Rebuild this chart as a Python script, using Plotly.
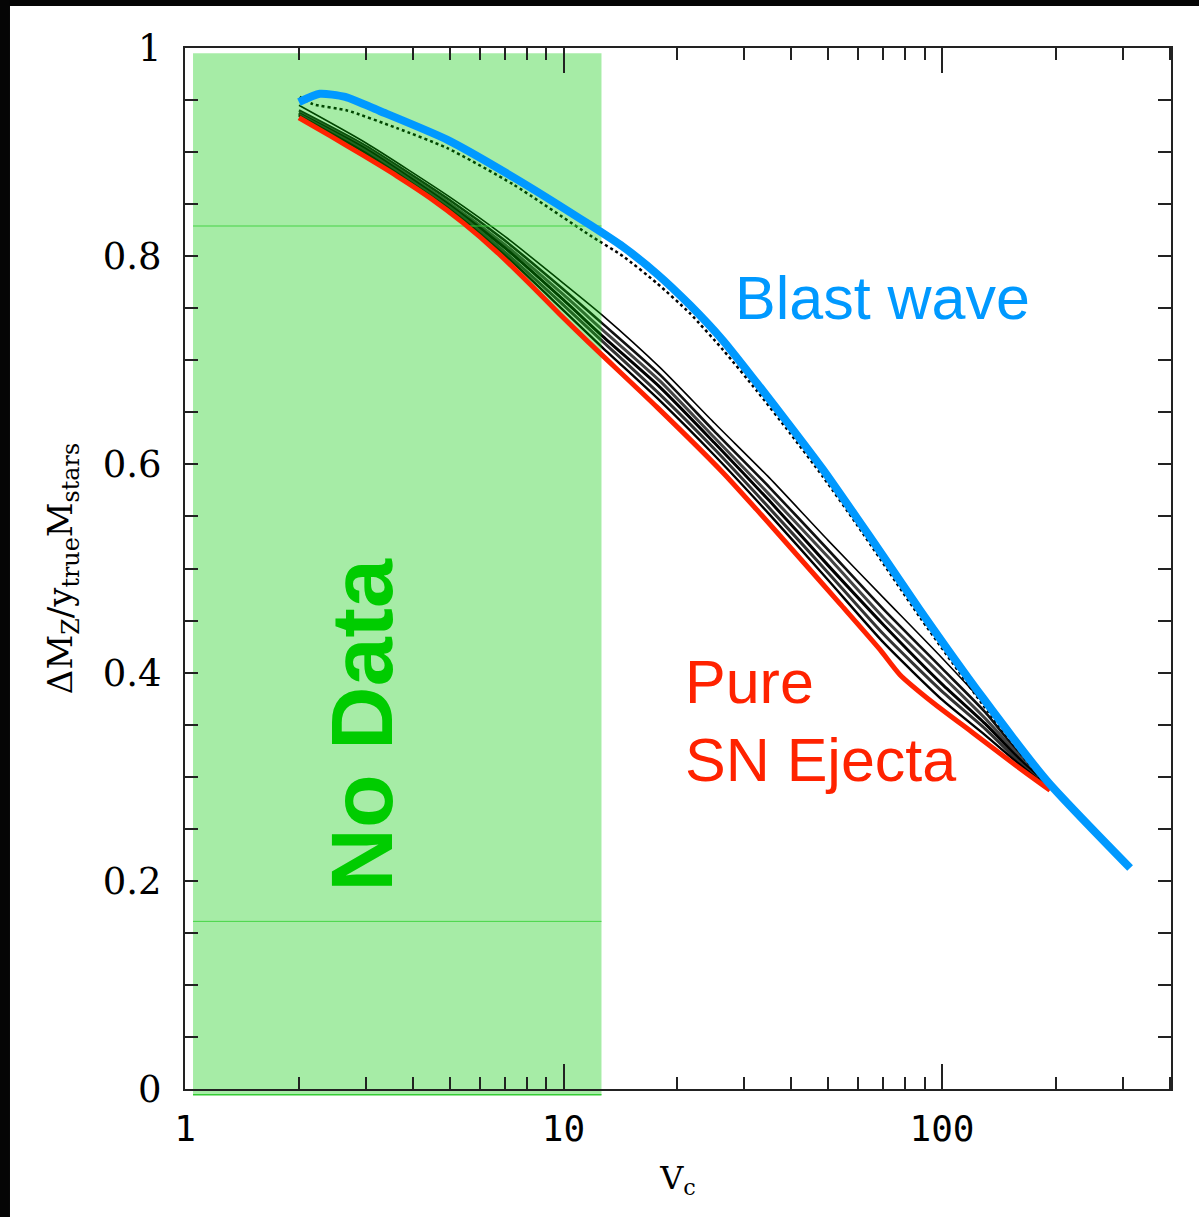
import plotly.graph_objects as go

# ---------------- data ----------------
blast_x = [2.0, 2.27, 2.65, 3.27, 4.92, 7.36, 11.75, 14.36, 17.66, 21.59, 26.39, 32.45, 39.67, 48.5, 59.6, 69.9, 87.5, 128.3, 189.4, 314]
blast_y = [0.948, 0.956, 0.953, 0.9395, 0.912, 0.876, 0.830, 0.809, 0.783, 0.753, 0.719, 0.678, 0.637, 0.595, 0.5485, 0.512, 0.460, 0.3756, 0.296, 0.2123]

dotted_x = [2.01, 2.18, 2.68, 3.63, 4.92, 7.36, 11.75, 14.36, 17.66, 21.59, 26.39, 32.45, 39.67, 48.5, 59.6, 87.5, 128.3, 189.4]
dotted_y = [0.953, 0.946, 0.940, 0.923, 0.904, 0.869, 0.820, 0.800, 0.774, 0.745, 0.710, 0.6705, 0.630, 0.588, 0.542, 0.453, 0.369, 0.290]

sn_x = [2.0, 2.42, 2.95, 3.63, 4.44, 5.43, 6.67, 8.16, 9.79, 11.75, 17.66, 26.39, 33.05, 41.4, 53.8, 68.6, 77.4, 94.7, 120.8, 157.8, 192.9]
sn_y = [0.933, 0.9155, 0.897, 0.877, 0.856, 0.832, 0.804, 0.773, 0.744, 0.716, 0.655, 0.592, 0.553, 0.513, 0.466, 0.422, 0.398, 0.371, 0.342, 0.310, 0.287]

model_x = [2, 3, 5, 7, 10, 12.7, 18, 25, 35, 50, 70, 100, 130, 160, 190]
model_a = [0.945, 0.909, 0.857, 0.819, 0.774, 0.743, 0.693, 0.640, 0.587, 0.527, 0.472, 0.414, 0.369, 0.326, 0.293]
model_b = [0.940, 0.906, 0.854, 0.815, 0.768, 0.735, 0.686, 0.632, 0.578, 0.518, 0.461, 0.404, 0.362, 0.322, 0.292]
model_c = [0.938, 0.904, 0.851, 0.811, 0.763, 0.729, 0.680, 0.626, 0.571, 0.511, 0.453, 0.397, 0.356, 0.320, 0.292]
model_d = [0.937, 0.903, 0.849, 0.808, 0.758, 0.723, 0.674, 0.621, 0.565, 0.503, 0.446, 0.389, 0.351, 0.317, 0.291]
model_e = [0.936, 0.901, 0.847, 0.804, 0.753, 0.718, 0.667, 0.615, 0.558, 0.496, 0.437, 0.382, 0.346, 0.314, 0.290]
model_f = [0.935, 0.899, 0.845, 0.801, 0.748, 0.712, 0.661, 0.609, 0.552, 0.489, 0.429, 0.374, 0.340, 0.312, 0.290]

y_ticks = [0, 0.2, 0.4, 0.6, 0.8, 1]
y_tick_text = ["0", "0.2", "0.4", "0.6", "0.8", "1"]
x_ticks = [1, 10, 100]
x_tick_text = ["1", "10", "100"]
x_minor = [2, 3, 4, 5, 6, 7, 8, 9, 20, 30, 40, 50, 60, 70, 80, 90, 200, 300, 400]

# "No Data" band
band_x0, band_x1 = 1.05, 12.6
band_y0, band_y1 = -0.006, 0.995
band_lines_y = [0.829, 0.161]

fig = go.Figure()

# black model curves
for ys, col, w in [(model_a, "black", 1.6), (model_b, "#111", 2.6), (model_c, "#444", 3.0),
                   (model_d, "black", 3.0), (model_e, "#333", 3.0), (model_f, "black", 2.4)]:
    fig.add_trace(go.Scatter(x=model_x, y=ys, mode="lines",
                             line=dict(color=col, width=w, shape="spline", smoothing=0.6),
                             showlegend=False, hoverinfo="skip"))

fig.add_trace(go.Scatter(x=dotted_x, y=dotted_y, mode="lines",
                         line=dict(color="black", width=2.5, dash="dot", shape="spline", smoothing=0.6),
                         showlegend=False))

# green no-data region (drawn over the black curves, below the coloured ones)
fig.add_trace(go.Scatter(x=[band_x0, band_x1, band_x1, band_x0, band_x0],
                         y=[band_y0, band_y0, band_y1, band_y1, band_y0],
                         mode="lines", fill="toself", fillcolor="rgba(0,200,0,0.35)",
                         line=dict(width=0), showlegend=False, hoverinfo="skip"))
for yl in band_lines_y:
    fig.add_trace(go.Scatter(x=[band_x0, band_x1], y=[yl, yl], mode="lines",
                             line=dict(color="rgba(60,210,60,0.9)", width=1), showlegend=False))

fig.add_trace(go.Scatter(x=sn_x, y=sn_y, mode="lines",
                         line=dict(color="#ff2200", width=5, shape="spline", smoothing=0.6),
                         showlegend=False))
fig.add_trace(go.Scatter(x=blast_x, y=blast_y, mode="lines",
                         line=dict(color="#0099ff", width=8, shape="spline", smoothing=0.6),
                         showlegend=False))

# strip of the band that pokes out below the axis
fig.add_shape(type="rect", xref="x", yref="paper", x0=band_x0, x1=band_x1, y0=-0.0058, y1=0,
              fillcolor="rgba(0,200,0,0.35)", line=dict(width=0), layer="below")
fig.add_shape(type="line", xref="x", yref="paper", x0=band_x0, x1=band_x1, y0=-0.0055, y1=-0.0055,
              line=dict(color="#33cc33", width=1.5), layer="above")

# annotations
fig.add_annotation(x=0.4676, y=0.350, xref="x", yref="y", text="<b>No Data</b>", textangle=-90,
                   showarrow=False, font=dict(family="Liberation Sans", size=88, color="#00cc00"))
fig.add_annotation(x=1.447, y=0.760, xref="x", yref="y", text="Blast wave", xanchor="left",
                   showarrow=False, font=dict(family="Liberation Sans", size=61, color="#0099ff"))
fig.add_annotation(x=1.3156, y=0.391, xref="x", yref="y", text="Pure", xanchor="left",
                   showarrow=False, font=dict(family="Liberation Sans", size=61, color="#ff2200"))
fig.add_annotation(x=1.3156, y=0.316, xref="x", yref="y", text="SN Ejecta", xanchor="left",
                   showarrow=False, font=dict(family="Liberation Sans", size=61, color="#ff2200"))

# black frame strips at top and left of the image
fig.add_shape(type="rect", xref="paper", yref="paper", x0=-0.2, x1=1.05, y0=1.0403, y1=1.06,
              fillcolor="#050505", line=dict(width=0), layer="above")
fig.add_shape(type="rect", xref="paper", yref="paper", x0=-0.2, x1=-0.1775, y0=-0.2, y1=1.06,
              fillcolor="#050505", line=dict(width=0), layer="above")

fig.update_xaxes(type="log", range=[0, 2.605], tickmode="array", tickvals=x_ticks, ticktext=x_tick_text,
                 ticks="inside", ticklen=25, tickwidth=2, tickcolor="#222",
                 minor=dict(tickmode="array", tickvals=x_minor, ticks="inside", ticklen=12,
                            tickwidth=2, tickcolor="#222", showgrid=False),
                 showline=True, linecolor="#222", linewidth=2, mirror="allticks",
                 showgrid=False, zeroline=False, ticklabelstandoff=7,
                 tickfont=dict(family="DejaVu Sans Mono", size=36, color="black"),
                 title=dict(text="V<sub>c</sub>", font=dict(family="DejaVu Serif", size=32, color="black"),
                            standoff=18))
fig.update_yaxes(range=[0, 1], tickmode="array", tickvals=y_ticks, ticktext=y_tick_text,
                 ticks="inside", ticklen=13, tickwidth=2, tickcolor="#222",
                 minor=dict(dtick=0.05, ticks="inside", ticklen=13, tickwidth=2, tickcolor="#222",
                            showgrid=False),
                 showline=True, linecolor="#222", linewidth=2, mirror="allticks",
                 showgrid=False, zeroline=False, ticklabelstandoff=14,
                 tickfont=dict(family="DejaVu Serif", size=37, color="black"),
                 title=dict(text="ΔM<sub>Z</sub>/y<sub>true</sub>M<sub>stars</sub>",
                            font=dict(family="DejaVu Serif", size=34, color="black"), standoff=20))

fig.update_layout(width=1199, height=1217, margin=dict(l=185, r=28, t=48, b=128),
                  plot_bgcolor="white", paper_bgcolor="white", showlegend=False)

fig.write_html("out.html")
